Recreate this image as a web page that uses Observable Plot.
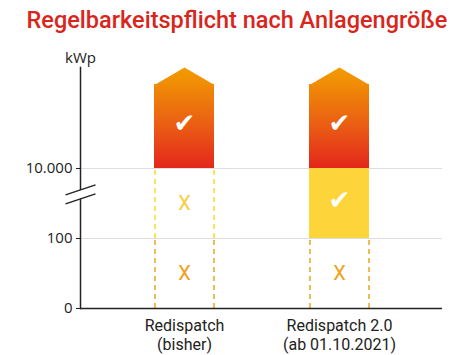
<!DOCTYPE html>
<html><head><meta charset="utf-8">
<script src="https://cdn.jsdelivr.net/npm/d3@7"></script>
<script src="https://cdn.jsdelivr.net/npm/@observablehq/plot@0.6"></script>
<style>
body{margin:0;background:#fff;width:474px;height:355px;overflow:hidden;font-family:Roboto,sans-serif}
#title{height:40px;line-height:40px;text-align:center;color:#d9261c;font-size:23.5px;font-weight:500;}
</style></head><body>
<div id="title">Regelbarkeitspflicht nach Anlagengröße</div>
<div id="chart"></div>
<script>
// ---- data ----
const categories = ["Redispatch\n(bisher)", "Redispatch 2.0\n(ab 01.10.2021)"];
const tierLower = [0, 1, 2];          // size bands: 0–100, 100–10.000, >10.000 kWp (as axis levels)
const tierUpper = [1, 2, 3.2];        // top band is open-ended
const tickValues = [0, 1, 2];
const tickLabels = ["0", "100", "10.000"];
const requiredBisher = [false, false, true];
const requiredRD2 = [false, true, true];
const unitLabel = "kWp";
const breakLevel = 1.63;

const required = [requiredBisher, requiredRD2];
const segments = categories.flatMap((cat, i) => tierLower.map((lo, j) => ({
  cat, tier: j, lo, hi: tierUpper[j], req: required[i][j]
})));
const mid = d => (d.lo + d.hi) / 2;

const arrowSymbol = {draw(ctx) { ctx.moveTo(-30, 0.5); ctx.lineTo(0, -17); ctx.lineTo(30, 0.5); ctx.closePath(); }};
const breakFill = {draw(ctx) { ctx.moveTo(-3, -3.5); ctx.lineTo(3, -5.5); ctx.lineTo(3, 3.5); ctx.lineTo(-3, 5.5); ctx.closePath(); }};
const breakLines = {draw(ctx) { ctx.moveTo(-15, 0.5); ctx.lineTo(15, -9.5); ctx.moveTo(-15, 9.5); ctx.lineTo(15, -0.5); }};

const tierDash = ["#eaa51c", "#f9dc22"];
const tierX = ["#f0a01a", "#f8cd3a"];

const notReq = segments.filter(d => !d.req);
const dashMarks = [0, 1].flatMap(t => [-29.5, 29.5].map(dx =>
  Plot.ruleX(notReq.filter(d => d.tier === t), {x: "cat", y1: "lo", y2: "hi", dx, stroke: tierDash[t], strokeWidth: 1.5, strokeDasharray: "5,4"})));

const plot = Plot.plot({
  width: 474, height: 315,
  marginLeft: 80, marginRight: 32, marginTop: 27, marginBottom: 47,
  style: {fontFamily: "'Open Sans', sans-serif", color: "#222", background: "white"},
  x: {domain: categories, padding: 0.615, paddingOuter: 0.468, axis: null},
  y: {domain: [0, 3.2], range: [268, 44], axis: null},
  marks: [
    Plot.ruleY(tickValues.slice(1), {stroke: "#dedede", strokeWidth: 1}),
    Plot.rectY(segments.filter(d => d.req && d.tier === 2), {x: "cat", y1: "lo", y2: "hi", fill: "url(#gBody)", inset: 0}),
    Plot.dot(segments.filter(d => d.tier === 2), {x: "cat", y: "hi", symbol: arrowSymbol, fill: "url(#gHead)", stroke: "none"}),
    Plot.rectY(segments.filter(d => d.req && d.tier === 1), {x: "cat", y1: "lo", y2: "hi", fill: "#fdd53a", inset: 0}),
    ...dashMarks,
    Plot.text(segments.filter(d => d.req), {x: "cat", y: mid, text: () => "✔", fill: "white", fontSize: 26, fontFamily: "DejaVu Sans", dy: -3}),
    Plot.text(notReq.filter(d => d.tier === 1), {x: "cat", y: mid, text: () => "X", fill: tierX[1], fontSize: 20, fontFamily: "Roboto", fontWeight: 400}),
    Plot.text(notReq.filter(d => d.tier === 0), {x: "cat", y: mid, text: () => "X", fill: tierX[0], fontSize: 20, fontFamily: "Roboto", fontWeight: 400}),
    Plot.frame({anchor: "left", stroke: "#222", strokeWidth: 1.5}),
    Plot.ruleY([0], {stroke: "#222", strokeWidth: 1.5}),
    Plot.dot([breakLevel], {y: d => d, frameAnchor: "left", symbol: breakFill, fill: "white", stroke: "none"}),
    Plot.dot([breakLevel], {y: d => d, frameAnchor: "left", symbol: breakLines, fill: "none", stroke: "#222", strokeWidth: 1.5}),
    Plot.axisY({ticks: tickValues, tickFormat: (d, i) => tickLabels[i], tickSize: 4, tickPadding: 4, fontSize: 15, label: null, stroke: "#222"}),
    Plot.axisX({tickSize: 0, tickPadding: 9, fontSize: 16, fontFamily: "Roboto", lineHeight: 1.2, label: null}),
    Plot.text([unitLabel], {frameAnchor: "top-left", text: d => d, dy: -15, fontSize: 15, textAnchor: "middle"})
  ]
});

const svg = d3.select(plot);
const defs = svg.insert("defs", ":first-child");
const gb = defs.append("linearGradient").attr("id", "gBody").attr("x1", 0).attr("y1", 0).attr("x2", 0).attr("y2", 1);
gb.append("stop").attr("offset", 0).attr("stop-color", "#f08c06");
gb.append("stop").attr("offset", 0.5).attr("stop-color", "#ea5c14");
gb.append("stop").attr("offset", 1).attr("stop-color", "#e3271b");
const gh = defs.append("linearGradient").attr("id", "gHead").attr("x1", 0).attr("y1", 0).attr("x2", 0).attr("y2", 1);
gh.append("stop").attr("offset", 0).attr("stop-color", "#f39a00");
gh.append("stop").attr("offset", 1).attr("stop-color", "#f08c06");

document.getElementById("chart").appendChild(plot);
</script>
</body></html>
